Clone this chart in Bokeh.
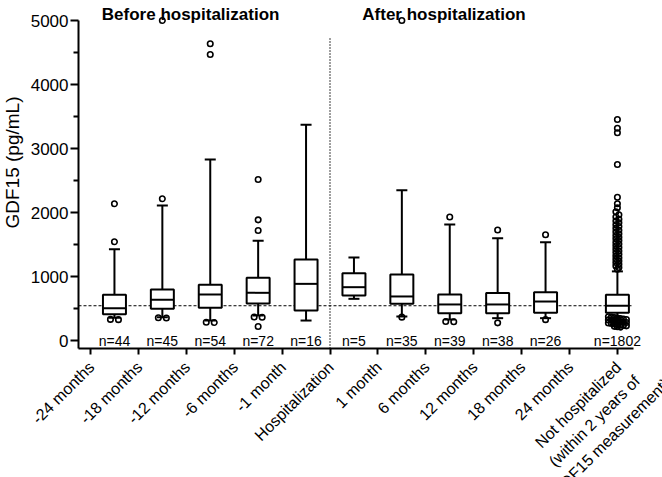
import math
from bokeh.plotting import figure
from bokeh.models import Range1d, FixedTicker, ColumnDataSource
from bokeh.embed import file_html
from bokeh.resources import INLINE
from bokeh.core.properties import value

FONT = "Liberation Sans"

# ---------------- data ----------------
NOT_HOSP = ["Not hospitalized", "(within 2 years of", "GDF15 measurement)"]
tick_labels = ["-24 months", "-18 months", "-12 months", "-6 months", "-1 month",
               "Hospitalization", "1 month", "6 months", "12 months", "18 months",
               "24 months", "\n".join(NOT_HOSP)]
LAST = tick_labels[-1]

# each box summarises the interval between two time points
box_from = ["-24 months", "-18 months", "-12 months", "-6 months", "-1 month",
            "Hospitalization", "1 month", "6 months", "12 months", "18 months", LAST]
box_to = ["-18 months", "-12 months", "-6 months", "-1 month", "Hospitalization",
          "1 month", "6 months", "12 months", "18 months", "24 months", LAST]

n_counts = [44, 45, 54, 72, 16, 5, 35, 39, 38, 26, 1802]
q1 = [411, 495, 511, 580, 469, 703, 573, 427, 427, 432, 432]
median = [505, 636, 719, 745, 885, 833, 688, 563, 563, 609, 543]
q3 = [714, 797, 870, 982, 1266, 1052, 1031, 719, 742, 752, 714]
whisker_low = [354, 365, 312, 391, 312, 651, 375, 328, 349, 349, 360]
whisker_high = [1427, 2109, 2828, 1557, 3370, 1297, 2346, 1813, 1597, 1534, 1080]

outliers = [
    [2136, 1542, 330, 326],
    [5000, 2214, 356, 352],
    [4636, 4469, 285, 281],
    [2516, 1885, 1719, 367, 363, 219],
    [],
    [],
    [5000, 365],
    [1930, 298, 294],
    [1727, 276],
    [1653, 326],
    [3453, 3317, 3245, 2750, 2239, 2136, 2073, 2010, 1965, 1930, 1895, 1868, 1840,
     1808, 1781, 1752, 1722, 1697, 1668, 1641, 1612, 1590, 1561, 1533, 1508, 1480,
     1452, 1427, 1398, 1373, 1347, 1320, 1294, 1268, 1241, 1218, 1190, 1166, 1140,
     1115, 372, 366, 357, 350, 343, 336, 329, 322, 316, 309, 301, 294, 288, 281,
     273, 266, 259, 251, 244, 236, 229, 221, 214, 209],
]

section_titles = ["Before hospitalization", "After hospitalization"]
separator_label = "Hospitalization"
y_ticks = [0, 1000, 2000, 3000, 4000, 5000]
y_minor = [500, 1500, 2500, 3500, 4500]
y_title = "GDF15 (pg/mL)"

# ---------------- layout (pixels of the canvas) ----------------
W, H = 662, 477
PX_X = 47.9            # pixels per category step
PX_Y = 0.064           # pixels per pg/mL
X0_PX, Y0_PX = 90, 340  # where the first tick and value 0 sit
AXIS_X_PX, AXIS_Y_PX, AXIS_END_PX = 78, 348, 633

def dx(px):
    return px / PX_X

def dy(px):
    return px / PX_Y

x_lo, x_hi = dx(0 - X0_PX), dx(W - X0_PX)
y_lo, y_hi = -dy(H - Y0_PX), dy(Y0_PX)
axis_x = dx(AXIS_X_PX - X0_PX)
axis_y = -dy(AXIS_Y_PX - Y0_PX)
axis_end = dx(AXIS_END_PX - X0_PX)

pos = {lab: i for i, lab in enumerate(tick_labels)}
box_x = [(pos[a] + pos[b]) / 2 for a, b in zip(box_from, box_to)]

p = figure(width=W, height=H, x_range=Range1d(x_lo, x_hi), y_range=Range1d(y_lo, y_hi),
           output_backend="svg", toolbar_location=None, min_border=0)
p.outline_line_color = None
p.grid.visible = False
p.background_fill_color = "white"
p.border_fill_color = "white"

# axes placed inside the plotting area so rotated labels have room
xa = p.xaxis[0]
xa.fixed_location = axis_y
xa.ticker = FixedTicker(ticks=list(range(len(tick_labels))))
xa.major_label_overrides = {i: "" for i in range(len(tick_labels))}
xa.bounds = (axis_x, axis_end)
xa.minor_tick_line_color = None
xa.major_tick_in = 0
xa.major_tick_out = 6
xa.major_tick_line_width = 2
xa.axis_line_width = 2
xa.axis_line_color = "black"

ya = p.yaxis[0]
ya.fixed_location = axis_x
ya.ticker = FixedTicker(ticks=y_ticks, minor_ticks=y_minor)
ya.bounds = (axis_y, max(y_ticks))
ya.major_label_text_font = FONT
ya.major_label_text_font_size = "17px"
ya.major_label_text_color = "black"
ya.major_label_standoff = 2
ya.major_tick_in = 0
ya.major_tick_out = 8
ya.minor_tick_in = 0
ya.minor_tick_out = 5
ya.major_tick_line_width = 2
ya.minor_tick_line_width = 2
ya.axis_line_width = 2
ya.axis_line_color = "black"

# x tick labels, rotated 45 degrees, ending at their tick
c45 = math.cos(math.pi / 4)
single = tick_labels[:-1]
p.text(x=[pos[l] + dx(1) for l in single], y=[axis_y - dy(16)] * len(single), text=single,
       angle=math.pi / 4, text_align="right", text_baseline="middle",
       text_font=value(FONT), text_font_size="16px", text_color="black")
# last label: three centred lines, first line ending at its tick
w_first = 114.0
lh = 23.0
lx = [pos[LAST] + dx(1 - (w_first / 2) * c45 + k * lh * c45) for k in range(len(NOT_HOSP))]
ly = [axis_y - dy(16 + (w_first / 2) * c45 + k * lh * c45) for k in range(len(NOT_HOSP))]
p.text(x=lx, y=ly, text=NOT_HOSP, angle=math.pi / 4, text_align="center",
       text_baseline="middle", text_font=value(FONT), text_font_size="16px",
       text_color="black")

# reference line (median of the non-hospitalized group)
p.segment(x0=[axis_x], y0=[median[-1]], x1=[axis_end], y1=[median[-1]],
          line_color="black", line_width=1, line_dash="3 2")

# separator at hospitalization
sep_x = pos[separator_label]
p.segment(x0=[sep_x], y0=[axis_y], x1=[sep_x], y1=[4720], line_color="black",
          line_width=1.5, line_dash="1 2")

# boxes
bw = 0.48
cw = 0.23
src = ColumnDataSource(dict(x=box_x, q1=q1, q3=q3, med=median, lo=whisker_low,
                            hi=whisker_high,
                            left=[x - bw / 2 for x in box_x], right=[x + bw / 2 for x in box_x],
                            cl=[x - cw / 2 for x in box_x], cr=[x + cw / 2 for x in box_x]))
p.segment(x0="x", y0="q3", x1="x", y1="hi", source=src, line_color="black", line_width=2)
p.segment(x0="x", y0="q1", x1="x", y1="lo", source=src, line_color="black", line_width=2)
p.segment(x0="cl", y0="hi", x1="cr", y1="hi", source=src, line_color="black", line_width=2)
p.segment(x0="cl", y0="lo", x1="cr", y1="lo", source=src, line_color="black", line_width=2)
p.quad(left="left", right="right", bottom="q1", top="q3", source=src,
       fill_color="white", line_color="black", line_width=2)
p.segment(x0="left", y0="med", x1="right", y1="med", source=src, line_color="black",
          line_width=2)

# outliers, spread horizontally when they sit at the same height
ox, oy = [], []
for x, vals in zip(box_x, outliers):
    spread = 8.0 if len(vals) < 10 else 3.0
    vals = sorted(vals, reverse=True)
    rows = []
    for v in vals:
        if rows and (rows[-1][0] - v) * PX_Y < 3.0:
            rows[-1].append(v)
        else:
            rows.append([v])
    for row in rows:
        k = len(row)
        for i, v in enumerate(row):
            ox.append(x + dx((i - (k - 1) / 2) * spread))
            oy.append(v)
p.scatter(ox, oy, marker="circle", size=5.5, fill_color=None, line_color="black",
          line_width=1.6)

# n labels
p.text(x=box_x, y=[0] * len(box_x), text=[f"n={n}" for n in n_counts],
       text_font=value(FONT), text_font_size="14px", text_align="center",
       text_baseline="middle", text_color="black")

# section titles
title_x = [2.09, 7.38]
p.text(x=title_x, y=[dy(Y0_PX - 13.5)] * 2, text=section_titles, text_font=value(FONT),
       text_font_size="17px", text_font_style="bold", text_align="center",
       text_baseline="alphabetic", text_color="black")

# y axis title
p.text(x=[dx(12 - X0_PX)], y=[dy(Y0_PX - 162)], text=[y_title], angle=math.pi / 2,
       text_font=value(FONT), text_font_size="19px", text_align="center",
       text_baseline="middle", text_color="black")

open("out.html", "w").write(file_html(p, INLINE))
